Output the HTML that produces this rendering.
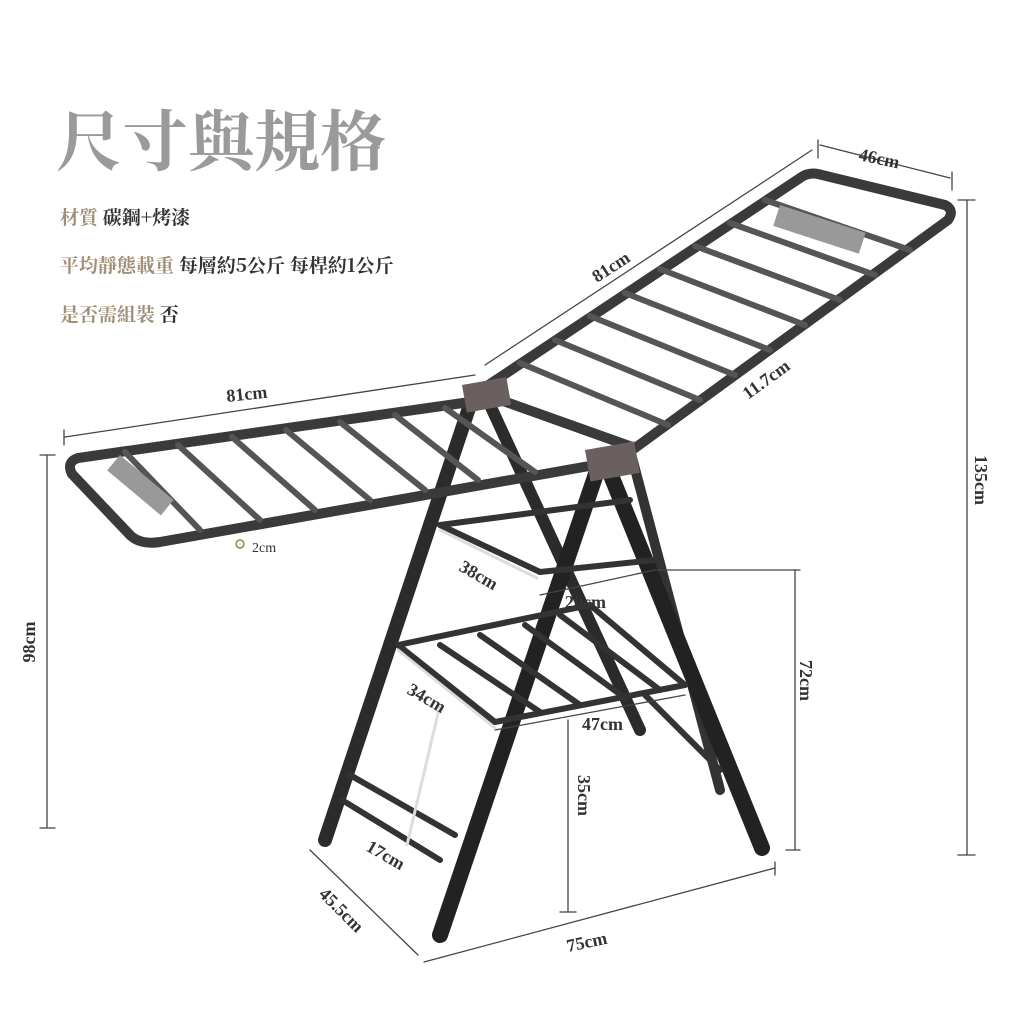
<!DOCTYPE html>
<html><head><meta charset="utf-8"><style>
body{margin:0;background:#fff;}
svg{display:block}
text{font-family:"Liberation Serif","Noto Serif CJK SC",serif;}
</style></head><body>
<svg width="1024" height="1024" viewBox="0 0 1024 1024">
<rect width="1024" height="1024" fill="#fff"/>
<text x="56" y="165" font-size="66" fill="#9a9a9a" font-weight="bold" style="font-family:'Noto Serif CJK SC',serif">尺寸與規格</text>
<text x="60" y="224" font-size="19" fill="#a08f78" font-weight="bold" style="font-family:'Noto Serif CJK SC',serif">材質 <tspan fill="#333">碳鋼+烤漆</tspan></text>
<text x="60" y="272" font-size="19" fill="#a08f78" font-weight="bold" style="font-family:'Noto Serif CJK SC',serif">平均靜態載重 <tspan fill="#333">每層約5公斤 每桿約1公斤</tspan></text>
<text x="60" y="321" font-size="19" fill="#a08f78" font-weight="bold" style="font-family:'Noto Serif CJK SC',serif">是否需組裝 <tspan fill="#333">否</tspan></text>

<g stroke-linecap="round" fill="none">
<line x1="470" y1="405" x2="325" y2="840" stroke="#2b2b2b" stroke-width="14"/>
<line x1="490" y1="405" x2="640" y2="730" stroke="#2b2b2b" stroke-width="12"/>
<line x1="630" y1="450" x2="720" y2="790" stroke="#333" stroke-width="10"/>
<g stroke="#3a3a3a" stroke-width="10">
<path d="M478 392 L800 178 Q808 172 818 174 L945 205 Q955 210 948 220 L635 448"/>
<line x1="478" y1="392" x2="635" y2="448"/>
</g>
<g stroke="#555" stroke-width="6">
<line x1="520" y1="363" x2="668" y2="425"/>
<line x1="555" y1="340" x2="700" y2="400"/>
<line x1="590" y1="316" x2="735" y2="375"/>
<line x1="625" y1="293" x2="770" y2="350"/>
<line x1="660" y1="269" x2="805" y2="325"/>
<line x1="695" y1="246" x2="840" y2="300"/>
<line x1="730" y1="223" x2="875" y2="275"/>
<line x1="765" y1="200" x2="910" y2="250"/>
</g>
<rect x="780" y="205" width="90" height="22" fill="#999" transform="rotate(18 780 205)"/>
<g stroke="#3a3a3a" stroke-width="10">
<path d="M470 402 L78 458 Q66 462 72 474 L130 535 Q140 545 160 542 L595 465"/>
</g>
<g stroke="#555" stroke-width="6">
<line x1="125" y1="452" x2="200" y2="530"/>
<line x1="178" y1="445" x2="260" y2="520"/>
<line x1="232" y1="437" x2="315" y2="510"/>
<line x1="286" y1="430" x2="370" y2="500"/>
<line x1="340" y1="422" x2="425" y2="490"/>
<line x1="395" y1="415" x2="478" y2="480"/>
<line x1="445" y1="408" x2="535" y2="472"/>
</g>
<rect x="120" y="455" width="70" height="20" fill="#999" transform="rotate(40 120 455)"/>
<line x1="598" y1="468" x2="440" y2="935" stroke="#222" stroke-width="16"/>
<line x1="608" y1="468" x2="762" y2="848" stroke="#222" stroke-width="16"/>
<g stroke="#333" stroke-width="6">
<line x1="440" y1="525" x2="540" y2="572"/>
<line x1="440" y1="525" x2="630" y2="500"/>
<line x1="540" y1="572" x2="655" y2="560"/>
<line x1="398" y1="645" x2="495" y2="722"/>
<line x1="398" y1="645" x2="590" y2="605"/>
<line x1="495" y1="722" x2="685" y2="685"/>
<line x1="590" y1="605" x2="685" y2="685"/>
<line x1="440" y1="645" x2="540" y2="712"/>
<line x1="480" y1="635" x2="580" y2="705"/>
<line x1="525" y1="625" x2="625" y2="698"/>
<line x1="560" y1="615" x2="660" y2="690"/>
<line x1="350" y1="775" x2="455" y2="835"/>
<line x1="342" y1="800" x2="440" y2="860"/>
<line x1="645" y1="695" x2="720" y2="770"/>
</g>
<rect x="462" y="385" width="45" height="28" fill="#6a6060" transform="rotate(-10 462 385)"/>
<rect x="585" y="450" width="50" height="32" fill="#6a6060" transform="rotate(-10 585 450)"/>
<g stroke="#444" stroke-width="1.3">
<line x1="820" y1="145" x2="950" y2="178"/>
<line x1="818" y1="140" x2="818" y2="158"/><line x1="952" y1="172" x2="952" y2="190"/>
<line x1="485" y1="365" x2="812" y2="150"/>
<line x1="65" y1="437" x2="475" y2="375"/>
<line x1="64" y1="430" x2="64" y2="445"/>
<line x1="967" y1="200" x2="967" y2="855"/>
<line x1="958" y1="200" x2="975" y2="200"/><line x1="958" y1="855" x2="975" y2="855"/>
<line x1="47" y1="455" x2="47" y2="828"/>
<line x1="40" y1="455" x2="55" y2="455"/><line x1="40" y1="828" x2="55" y2="828"/>
<line x1="655" y1="570" x2="800" y2="570"/>
<line x1="795" y1="570" x2="795" y2="850"/><line x1="786" y1="850" x2="800" y2="850"/>
<line x1="568" y1="720" x2="568" y2="912"/><line x1="560" y1="912" x2="576" y2="912"/>
<line x1="310" y1="850" x2="418" y2="955"/>
<line x1="424" y1="962" x2="775" y2="868"/>
<line x1="775" y1="862" x2="775" y2="875"/>
<line x1="540" y1="595" x2="655" y2="570"/>
<line x1="495" y1="730" x2="685" y2="695"/>
</g>
<g stroke="#ddd" stroke-width="3">
<line x1="440" y1="530" x2="537" y2="578"/>
<line x1="398" y1="650" x2="495" y2="728"/>
<line x1="440" y1="705" x2="407" y2="845"/>
</g>
</g>
<g fill="#333" font-size="18" font-weight="bold">
<text x="858" y="160" transform="rotate(12 858 160)">46cm</text>
<text x="597" y="283" transform="rotate(-33 597 283)">81cm</text>
<text x="227" y="402" transform="rotate(-6 227 402)">81cm</text>
<text x="748" y="400" transform="rotate(-36 748 400)">11.7cm</text>
<text x="975" y="455" transform="rotate(90 975 455)">135cm</text>
<text x="35" y="642" text-anchor="middle" transform="rotate(-90 35 642)">98cm</text>
<text x="458" y="570" transform="rotate(30 458 570)">38cm</text>
<text x="565" y="608">20cm</text>
<text x="406" y="693" transform="rotate(30 406 693)">34cm</text>
<text x="582" y="730">47cm</text>
<text x="800" y="660" transform="rotate(90 800 660)">72cm</text>
<text x="578" y="775" transform="rotate(90 578 775)">35cm</text>
<text x="365" y="850" transform="rotate(30 365 850)">17cm</text>
<text x="318" y="895" transform="rotate(45 318 895)">45.5cm</text>
<text x="568" y="952" transform="rotate(-12 568 952)">75cm</text>
<text x="252" y="552" font-family="Liberation Sans" font-size="14" font-weight="normal">2cm</text>
</g>
<circle cx="240" cy="544" r="4" fill="none" stroke="#6a9a50" stroke-width="1.5"/>
</svg>
</body></html>
